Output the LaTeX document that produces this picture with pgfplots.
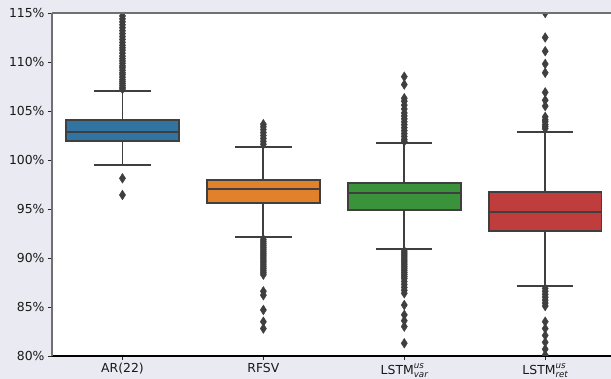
\documentclass[border=0pt]{standalone}
\usepackage{pgfplots}
\pgfplotsset{compat=1.18}
\usepackage{fontspec}
\setmainfont{DejaVu Sans}
\usepgfplotslibrary{statistics}
\definecolor{bgc}{HTML}{EAEAF2}
\definecolor{cblue}{HTML}{3274A1}
\definecolor{corange}{HTML}{E1812C}
\definecolor{cgreen}{HTML}{3A923A}
\definecolor{cred}{HTML}{C03D3E}
\definecolor{lc}{HTML}{3F3F3F}
\definecolor{spine}{HTML}{707070}
\newcommand\supsub[2]{\mbox{\fontsize{8.7}{9}\selectfont\itshape\raisebox{6.5pt}{\rlap{#1}}\raisebox{-3pt}{#2}}}
\pgfplotsset{bstyle/.style={draw=lc, line width=1.8pt, mark=diamond*, mark size=3.6pt,
    mark options={fill=lc, draw=lc, line width=0.4pt, xscale=1.15, yscale=1.35, solid},
    boxplot/every box/.style={draw=lc, line width=1.8pt, fill=#1},
    boxplot/every whisker/.style={draw=lc, line width=1.8pt},
    boxplot/every median/.style={draw=lc, line width=1.8pt}}}
\begin{document}
\begin{tikzpicture}
\useasboundingbox (0,0) rectangle (611pt,379pt);
\fill[bgc] (0,0) rectangle (611pt,379pt);
\fill[white] (52pt,23pt) rectangle (611pt,366pt);
\begin{axis}[
  at={(52pt,23pt)}, anchor=south west,
  scale only axis, width=559pt, height=343pt,
  xmin=-0.5, xmax=3.467, ymin=80, ymax=115,
  boxplot/draw direction=y,
  clip marker paths=true,
  axis x line*=bottom, axis y line*=left,
  axis line style={-},
  x axis line style={black, line width=1.2pt},
  y axis line style={spine, line width=1.5pt},
  xtick={0,1,2,3},
  xticklabels={AR(22), RFSV, LSTM\supsub{us}{var}, LSTM\supsub{us}{ret}},
  ytick={80,85,90,95,100,105,110,115},
  yticklabels={80\%,85\%,90\%,95\%,100\%,105\%,110\%,115\%},
  tick align=outside, major tick length=4pt,
  tick style={black!85, line width=0.9pt},
  ticklabel style={font=\fontsize{12.4}{14}\selectfont, text=black!90},
]
\addplot[bstyle=cblue, boxplot prepared={draw position=0, lower whisker=99.52, lower quartile=101.97,
  median=102.86, upper quartile=104.08, upper whisker=107.07, box extend=0.8, whisker extend=0.4}]
coordinates {(0,98.13) (0,96.43)
(0,107.25) (0,107.4) (0,107.6) (0,107.8) (0,108.0) (0,108.2) (0,108.45) (0,108.7) (0,108.9)
(0,109.15) (0,109.4) (0,109.6) (0,109.85) (0,110.1) (0,110.35) (0,110.6) (0,110.9) (0,111.2)
(0,111.45) (0,111.7) (0,112.0) (0,112.3) (0,112.6) (0,112.9) (0,113.2) (0,113.5) (0,113.8)
(0,114.1) (0,114.4) (0,114.7)};
\addplot[bstyle=corange, boxplot prepared={draw position=1, lower whisker=92.18, lower quartile=95.58,
  median=97.04, upper quartile=97.96, upper whisker=101.36, box extend=0.8, whisker extend=0.4}]
coordinates {(1,101.6) (1,101.9) (1,102.2) (1,102.5) (1,102.8) (1,103.1) (1,103.4) (1,103.65)
(1,91.9) (1,91.7) (1,91.5) (1,91.3) (1,91.1) (1,90.9) (1,90.7) (1,90.5) (1,90.3) (1,90.1)
(1,89.9) (1,89.7) (1,89.5) (1,89.3) (1,89.1) (1,88.9) (1,88.7) (1,88.5) (1,88.3)
(1,86.6) (1,86.2) (1,84.7) (1,83.5) (1,82.8)};
\addplot[bstyle=cgreen, boxplot prepared={draw position=2, lower whisker=90.88, lower quartile=94.90,
  median=96.60, upper quartile=97.62, upper whisker=101.70, box extend=0.8, whisker extend=0.4}]
coordinates {(2,108.5) (2,107.7) (2,106.3) (2,106.0) (2,105.6) (2,105.2) (2,104.8) (2,104.5)
(2,104.2) (2,103.9) (2,103.6) (2,103.3) (2,103.0) (2,102.7) (2,102.4) (2,102.1) (2,101.9)
(2,90.7) (2,90.5) (2,90.3) (2,90.1) (2,89.9) (2,89.7) (2,89.5) (2,89.3) (2,89.1) (2,88.9)
(2,88.7) (2,88.5) (2,88.3) (2,88.1) (2,87.9) (2,87.6) (2,87.3) (2,87.0) (2,86.7) (2,86.4)
(2,85.2) (2,84.2) (2,83.6) (2,83.0) (2,81.3)};
\addplot[bstyle=cred, boxplot prepared={draw position=3, lower whisker=87.14, lower quartile=92.79,
  median=94.73, upper quartile=96.77, upper whisker=102.86, box extend=0.8, whisker extend=0.4}]
coordinates {(3,103.2) (3,103.4) (3,103.6) (3,103.9) (3,104.1) (3,104.4) (3,105.5) (3,106.1)
(3,106.9) (3,108.9) (3,109.8) (3,111.1) (3,112.5) (3,115.0)
(3,86.9) (3,86.6) (3,86.3) (3,86.0) (3,85.7) (3,85.4) (3,85.1)
(3,83.5) (3,82.8) (3,82.1) (3,81.4) (3,80.7) (3,80.1)};
\draw[spine, line width=1.5pt] (rel axis cs:0,1) -- (rel axis cs:1,1);
\end{axis}
\end{tikzpicture}
\end{document}
